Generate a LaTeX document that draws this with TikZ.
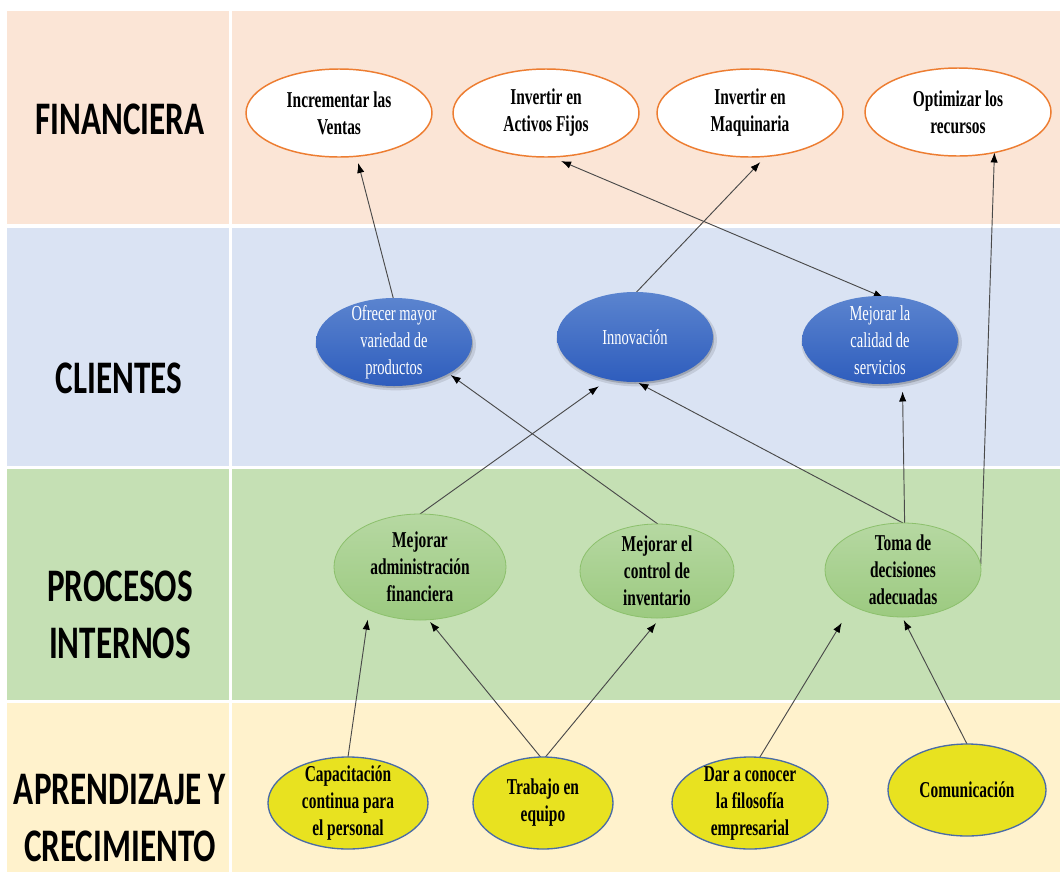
\documentclass[tikz,border=0pt]{standalone}
\usepackage{fontspec}
\setmainfont{Liberation Serif}
\newfontfamily\serifcond{Liberation Serif}[FakeStretch=0.68]
\newfontfamily\sanscond{Carlito}[FakeStretch=0.71]
\usetikzlibrary{shapes.geometric,arrows.meta,shadows}

\definecolor{finbg}{HTML}{FBE5D6}
\definecolor{clibg}{HTML}{DAE3F3}
\definecolor{probg}{HTML}{C5E0B4}
\definecolor{aprbg}{HTML}{FFF2CC}
\definecolor{orangeline}{HTML}{ED7D31}
\definecolor{bluetop}{HTML}{5B84CF}
\definecolor{bluebot}{HTML}{2E5DBD}
\definecolor{greentop}{HTML}{B6D8A2}
\definecolor{greenbot}{HTML}{9CCA80}
\definecolor{greenline}{HTML}{8CC06C}
\definecolor{yellowfill}{HTML}{E8E220}
\definecolor{yellowline}{HTML}{4A6CA6}
\definecolor{linkgray}{HTML}{4A4A4A}

\pgfdeclarelayer{back}
\pgfdeclarelayer{links}
\pgfsetlayers{back,links,main}

\begin{document}
\begin{tikzpicture}[x=0.75pt,y=-0.75pt,
  esz/.style 2 args={minimum width=#1*0.75pt,minimum height=#2*0.75pt},
  oval/.style={ellipse,inner sep=-16pt,outer sep=0pt,align=center},
  goal/.style={oval,draw=orangeline,line width=1.1pt,fill=white,
    font=\serifcond\bfseries\fontsize{17}{20.25}\selectfont},
  client/.style={oval,top color=bluetop,bottom color=bluebot,text=white,
    general shadow={fill=black,opacity=0.10,shadow xshift=1.2pt,shadow yshift=-2.2pt,shadow scale=1.03},
    general shadow={fill=black,opacity=0.18,shadow xshift=0.8pt,shadow yshift=-1.5pt},
    font=\serifcond\fontsize{16}{20.25}\selectfont},
  process/.style={oval,top color=greentop,bottom color=greenbot,draw=greenline,line width=0.6pt,
    font=\serifcond\bfseries\fontsize{17}{20.25}\selectfont},
  learn/.style={oval,fill=yellowfill,draw=yellowline,line width=1pt,
    font=\serifcond\bfseries\fontsize{17}{20.25}\selectfont},
  perspective/.style={inner sep=0pt,align=center,
    font=\sanscond\bfseries\fontsize{35}{43}\selectfont},
  tip/.tip={Latex[length=7.5pt,width=5.5pt,color=black]},
  link/.style={draw=linkgray,line width=0.7pt,-tip},
  biglink/.style={draw=linkgray,line width=0.7pt,tip-tip},
]
\useasboundingbox (0,0) rectangle (1060,872);

% table of the four perspectives
\begin{pgfonlayer}{back}
  \fill[white] (0,0) rectangle (1060,872);
  \fill[finbg] (7,11) rectangle (229,224);
  \fill[finbg] (232,11) rectangle (1060,224);
  \fill[clibg] (7,228) rectangle (229,466);
  \fill[clibg] (232,228) rectangle (1060,466);
  \fill[probg] (7,469) rectangle (229,700);
  \fill[probg] (232,469) rectangle (1060,700);
  \fill[aprbg] (7,703) rectangle (229,872);
  \fill[aprbg] (232,703) rectangle (1060,872);
\end{pgfonlayer}

% perspective names
\node[perspective] (pfin) at (120,119) {FINANCIERA};
\node[perspective] (pcli) at (119,378) {CLIENTES};
\node[perspective] (ppro) at (120,615) {PROCESOS\\INTERNOS};
\node[perspective] (papr) at (120,818) {APRENDIZAJE Y\\CRECIMIENTO};

% financial objectives
\node[goal,esz={186}{88}] (incr)  at (339,113) {Incrementar las\\Ventas};
\node[goal,esz={186}{88}] (activ) at (546,113) {Invertir en\\Activos Fijos};
\node[goal,esz={186}{88}] (maq)   at (750,113) {Invertir en\\Maquinaria};
\node[goal,esz={186}{88}] (optim) at (958,112) {Optimizar los\\recursos};

% customer objectives
\node[client,esz={156}{88}] (ofr)   at (394,342) {Ofrecer mayor\\variedad de\\productos};
\node[client,esz={156}{90}] (innov) at (635,337) {Innovación};
\node[client,esz={156}{88}] (cal)   at (880,340) {Mejorar la\\calidad de\\servicios};

% internal process objectives
\node[process,esz={172}{106}] (admin) at (420,567) {Mejorar\\administración\\financiera};
\node[process,esz={154}{94}]  (inv)   at (657,571) {Mejorar el\\control de\\inventario};
\node[process,esz={156}{94}]  (toma)  at (903,570) {Toma de\\decisiones\\adecuadas};

% learning and growth objectives
\node[learn,esz={160}{92}] (cap)  at (348,803) {Capacitación\\continua para\\el personal};
\node[learn,esz={140}{92}] (trab) at (543,803) {Trabajo en\\equipo};
\node[learn,esz={156}{92}] (dar)  at (750,803) {Dar a conocer\\la filosofía\\empresarial};
\node[learn,esz={158}{92}] (com)  at (967,790) {Comunicación};

% cause-effect links
\begin{pgfonlayer}{links}
  \draw[link,shorten >=5.2pt] (ofr.91) -- (incr.-68);
  \draw[link,shorten >=6pt] (innov.88) -- (maq.-70);
  \draw[biglink,shorten <=-3pt,shorten >=7.9pt] (cal.90) -- (activ.-83);
  \draw[link] (toma.3) -- (optim.-48);
  \draw[link,shorten >=7pt] (toma.88) -- (cal.-62);
  \draw[link,shorten >=1.5pt] (toma.90) -- (innov.-88);
  \draw[link,shorten >=2pt] (inv.89) -- (ofr.-30);
  \draw[link,shorten >=9pt] (admin.90) -- (innov.-122);
  \draw[link,shorten >=7.5pt] (cap.90) -- (admin.-140);
  \draw[link,shorten >=2pt] (trab.93) -- (admin.-81);
  \draw[link,shorten >=5pt] (trab.87) -- (inv.-86);
  \draw[link,shorten >=15pt] (dar.78) -- (toma.-145);
  \draw[link,shorten >=2.5pt] (com.90) -- (toma.-91);
\end{pgfonlayer}
\end{tikzpicture}
\end{document}
